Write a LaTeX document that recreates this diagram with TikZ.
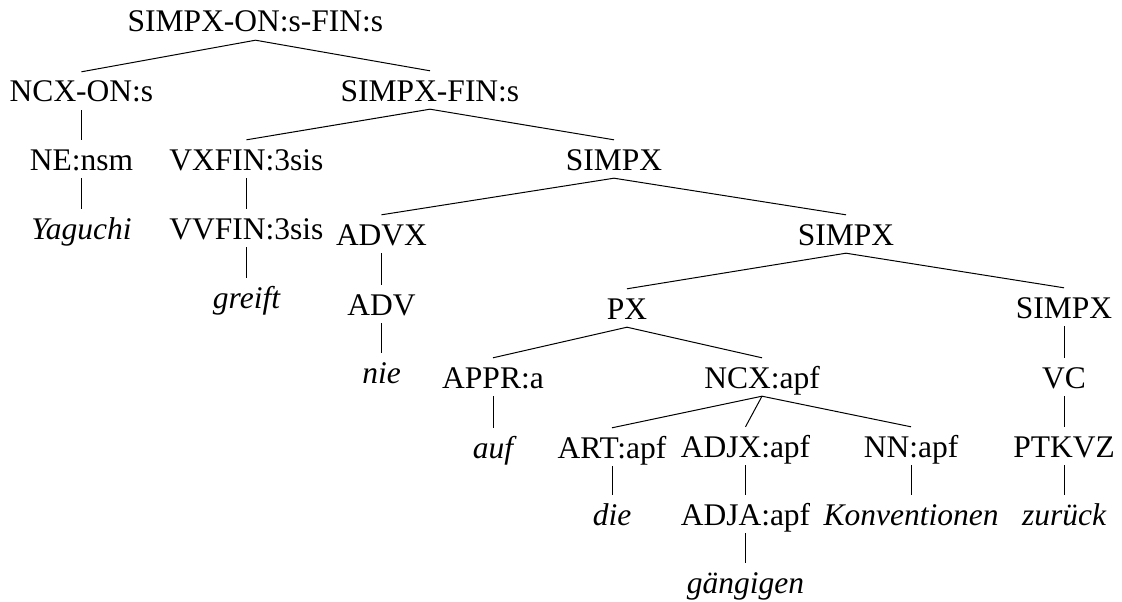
\documentclass[tikz,border=0pt]{standalone}
\usepackage{fontspec}
\setmainfont{Liberation Serif}
\begin{document}
\begin{tikzpicture}[x=1pt,y=-1pt,
  lbl/.style={anchor=base, inner sep=0pt, text height=30pt, text depth=8pt,
              font=\fontsize{31.5}{36}\selectfont},
  word/.style={lbl, font=\fontsize{31.5}{36}\selectfont\itshape},
  branch/.style={line width=1pt, black}]
\useasboundingbox (0,0) rectangle (1122,602);

% categories and words (x = centre, y = baseline)
\node[lbl]  (root)   at (255.5,32)  {SIMPX-ON:s-FIN:s};
\node[lbl]  (ncxon)  at (81.5,102)  {NCX-ON:s};
\node[lbl]  (sfin)   at (430,101)   {SIMPX-FIN:s};
\node[lbl]  (ne)     at (81.5,170)  {NE:nsm};
\node[lbl]  (vxfin)  at (246.5,170) {VXFIN:3sis};
\node[lbl]  (sa)     at (614,170)   {SIMPX};
\node[word] (yag)    at (81.5,239)  {Yaguchi};
\node[lbl]  (vvfin)  at (246.5,239) {VVFIN:3sis};
\node[lbl]  (advx)   at (381.5,245) {ADVX};
\node[lbl]  (sb)     at (846,245)   {SIMPX};
\node[word] (greift) at (246.5,308) {greift};
\node[lbl]  (adv)    at (381.5,315) {ADV};
\node[lbl]  (px)     at (627,319)   {PX};
\node[lbl]  (sc)     at (1064,318)  {SIMPX};
\node[word] (nie)    at (381.5,383) {nie};
\node[lbl]  (appr)   at (493,388)   {APPR:a};
\node[lbl]  (ncx)    at (762,388)   {NCX:apf};
\node[lbl]  (vc)     at (1064,388)  {VC};
\node[word] (auf)    at (493,458)   {auf};
\node[lbl]  (art)    at (612,458)   {ART:apf};
\node[lbl]  (adjx)   at (745.5,457) {ADJX:apf};
\node[lbl]  (nn)     at (911,457)   {NN:apf};
\node[lbl]  (ptkvz)  at (1064,457)  {PTKVZ};
\node[word] (die)    at (612,525)   {die};
\node[lbl]  (adja)   at (745.5,525) {ADJA:apf};
\node[word] (konv)   at (911,525)   {Konventionen};
\node[word] (zur)    at (1064,525)  {zurück};
\node[word] (gaeng)  at (745.5,593) {gängigen};

% branches
\draw[branch] (root.south)  -- (ncxon.north);
\draw[branch] (root.south)  -- (sfin.north);
\draw[branch] (ncxon.south) -- (ne.north);
\draw[branch] (ne.south)    -- (yag.north);
\draw[branch] (sfin.south)  -- (vxfin.north);
\draw[branch] (sfin.south)  -- (sa.north);
\draw[branch] (vxfin.south) -- (vvfin.north);
\draw[branch] (vvfin.south) -- (greift.north);
\draw[branch] (sa.south)    -- (advx.north);
\draw[branch] (sa.south)    -- (sb.north);
\draw[branch] (advx.south)  -- (adv.north);
\draw[branch] (adv.south)   -- (nie.north);
\draw[branch] (sb.south)    -- (px.north);
\draw[branch] (sb.south)    -- (sc.north);
\draw[branch] (px.south)    -- (appr.north);
\draw[branch] (px.south)    -- (ncx.north);
\draw[branch] (appr.south)  -- (auf.north);
\draw[branch] (ncx.south)   -- (art.north);
\draw[branch] (ncx.south)   -- (adjx.north);
\draw[branch] (ncx.south)   -- (nn.north);
\draw[branch] (art.south)   -- (die.north);
\draw[branch] (adjx.south)  -- (adja.north);
\draw[branch] (adja.south)  -- (gaeng.north);
\draw[branch] (nn.south)    -- (konv.north);
\draw[branch] (sc.south)    -- (vc.north);
\draw[branch] (vc.south)    -- (ptkvz.north);
\draw[branch] (ptkvz.south) -- (zur.north);
\end{tikzpicture}
\end{document}
